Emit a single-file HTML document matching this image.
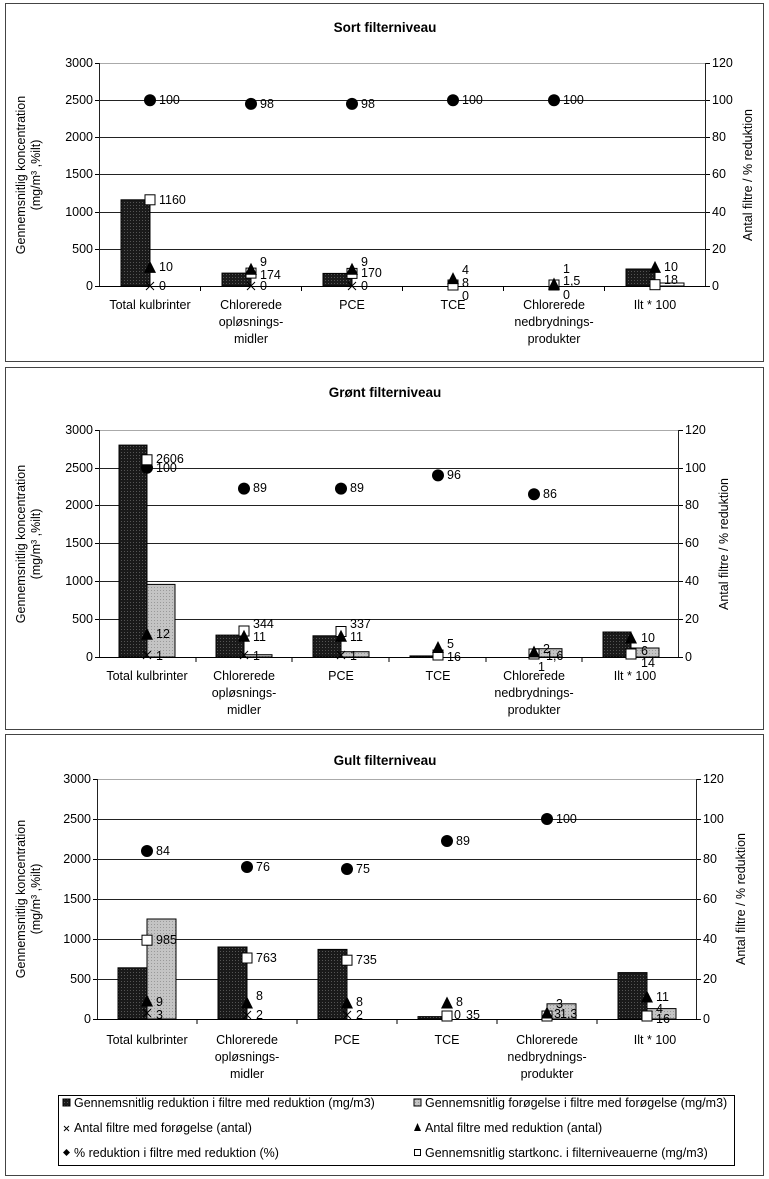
<!DOCTYPE html>
<html><head><meta charset="utf-8"><style>
html,body{margin:0;padding:0;background:#fff}
svg{display:block;font-family:"Liberation Sans",Arial,sans-serif}
</style></head><body>
<svg width="769" height="1179" viewBox="0 0 769 1179" xmlns="http://www.w3.org/2000/svg">
<defs>
<pattern id="pb" width="3" height="3" patternUnits="userSpaceOnUse"><rect width="3" height="3" fill="#1a1a1a"/><rect x="1" y="1" width="1" height="1" fill="#555"/></pattern>
<pattern id="pg" width="3" height="3" patternUnits="userSpaceOnUse"><rect width="3" height="3" fill="#c4c4c4"/><rect x="1" y="1" width="1" height="1" fill="#999"/></pattern>
<symbol id="ci" overflow="visible"><circle cx="0" cy="0" r="6" fill="#000"/></symbol>
<symbol id="sq" overflow="visible"><rect x="-5" y="-5" width="10" height="10" fill="#fff" stroke="#000" stroke-width="1"/></symbol>
<symbol id="tr" overflow="visible"><polygon points="0,-6.5 6,5.5 -6,5.5" fill="#000"/></symbol>
<symbol id="xx" overflow="visible"><path d="M-4,-4L4,4M-4,4L4,-4" stroke="#000" stroke-width="1"/></symbol>
</defs>
<rect width="769" height="1179" fill="#fff"/>
<rect x="5.5" y="3.5" width="758" height="358" fill="none" stroke="#444"/>
<rect x="5.5" y="367.5" width="758" height="362" fill="none" stroke="#444"/>
<rect x="5.5" y="734.5" width="758" height="441" fill="none" stroke="#444"/>

<!-- ================= CHART 1 ================= -->
<text x="385" y="32" font-size="13.5" font-weight="bold" text-anchor="middle">Sort filterniveau</text>
<g transform="translate(0,63)" font-size="12.5">
<g stroke="#222" stroke-width="1">
<line x1="99" y1="0.5" x2="706" y2="0.5" stroke="#aaa"/>
<line x1="99" y1="37.5" x2="706" y2="37.5"/><line x1="99" y1="74.5" x2="706" y2="74.5"/>
<line x1="99" y1="111.5" x2="706" y2="111.5"/><line x1="99" y1="149.5" x2="706" y2="149.5"/>
<line x1="99" y1="186.5" x2="706" y2="186.5"/>
<line x1="99.5" y1="0" x2="99.5" y2="223"/><line x1="705.5" y1="0" x2="705.5" y2="223"/>
</g>
<g stroke="#000"><line x1="95" y1="0.5" x2="99" y2="0.5"/><line x1="95" y1="37.5" x2="99" y2="37.5"/><line x1="95" y1="74.5" x2="99" y2="74.5"/><line x1="95" y1="111.5" x2="99" y2="111.5"/><line x1="95" y1="149.5" x2="99" y2="149.5"/><line x1="95" y1="186.5" x2="99" y2="186.5"/><line x1="95" y1="223.5" x2="99" y2="223.5"/>
<line x1="706" y1="0.5" x2="710" y2="0.5"/><line x1="706" y1="37.5" x2="710" y2="37.5"/><line x1="706" y1="74.5" x2="710" y2="74.5"/><line x1="706" y1="111.5" x2="710" y2="111.5"/><line x1="706" y1="149.5" x2="710" y2="149.5"/><line x1="706" y1="186.5" x2="710" y2="186.5"/><line x1="706" y1="223.5" x2="710" y2="223.5"/></g>
<g text-anchor="end"><text x="93" y="4">3000</text><text x="93" y="41">2500</text><text x="93" y="78">2000</text><text x="93" y="115">1500</text><text x="93" y="153">1000</text><text x="93" y="190">500</text><text x="93" y="227">0</text></g>
<g><text x="712" y="4">120</text><text x="712" y="41">100</text><text x="712" y="78">80</text><text x="712" y="115">60</text><text x="712" y="153">40</text><text x="712" y="190">20</text><text x="712" y="227">0</text></g>
<text transform="translate(25,112) rotate(-90)" text-anchor="middle">Gennemsnitlig koncentration</text>
<text transform="translate(40,112) rotate(-90)" text-anchor="middle">(mg/m³ ,%ilt)</text>
<text transform="translate(752,112) rotate(-90)" text-anchor="middle">Antal filtre / % reduktion</text>
<rect x="121" y="136.8" width="29" height="86.2" fill="url(#pb)" stroke="#000"/>
<rect x="222" y="210.1" width="29" height="12.9" fill="url(#pb)" stroke="#000"/>
<rect x="323" y="210.4" width="29" height="12.6" fill="url(#pb)" stroke="#000"/>
<rect x="626" y="206" width="29" height="17" fill="url(#pb)" stroke="#000"/>
<rect x="655" y="220" width="29" height="3" fill="#fff" stroke="#000"/>
<line x1="99" y1="223.5" x2="706" y2="223.5" stroke="#000"/>
<g stroke="#000"><line x1="200.5" y1="223" x2="200.5" y2="228"/><line x1="301.5" y1="223" x2="301.5" y2="228"/><line x1="402.5" y1="223" x2="402.5" y2="228"/><line x1="503.5" y1="223" x2="503.5" y2="228"/><line x1="604.5" y1="223" x2="604.5" y2="228"/></g>
<use href="#ci" x="150" y="37.2"/><use href="#ci" x="251" y="40.9"/><use href="#ci" x="352" y="40.9"/><use href="#ci" x="453" y="37.2"/><use href="#ci" x="554" y="37.2"/>
<use href="#sq" x="150" y="136.8"/><use href="#sq" x="251" y="210.1"/><use href="#sq" x="352" y="210.4"/><use href="#sq" x="453" y="222"/><use href="#sq" x="554" y="222"/><use href="#sq" x="655" y="221.7"/>
<use href="#tr" x="150" y="204.4"/><use href="#tr" x="251" y="206.3"/><use href="#tr" x="352" y="206.3"/><use href="#tr" x="453" y="215.6"/><use href="#tr" x="554" y="221"/><use href="#tr" x="655" y="204.4"/>
<use href="#xx" x="150" y="223"/><use href="#xx" x="251" y="223"/><use href="#xx" x="352" y="223"/>
<g><text x="159" y="41">100</text><text x="260" y="45">98</text><text x="361" y="45">98</text><text x="462" y="41">100</text><text x="563" y="41">100</text>
<text x="159" y="141">1160</text><text x="159" y="208">10</text><text x="159" y="227">0</text>
<text x="260" y="203">9</text><text x="260" y="216">174</text><text x="260" y="227">0</text>
<text x="361" y="203">9</text><text x="361" y="214">170</text><text x="361" y="227">0</text>
<text x="462" y="211">4</text><text x="462" y="224">8</text><text x="462" y="237">0</text>
<text x="563" y="210">1</text><text x="563" y="222">1,5</text><text x="563" y="236">0</text>
<text x="664" y="208">10</text><text x="664" y="221">18</text></g>
<g text-anchor="middle"><text x="150" y="246">Total kulbrinter</text>
<text x="251" y="246">Chlorerede</text><text x="251" y="263">opløsnings-</text><text x="251" y="280">midler</text>
<text x="352" y="246">PCE</text><text x="453" y="246">TCE</text>
<text x="554" y="246">Chlorerede</text><text x="554" y="263">nedbrydnings-</text><text x="554" y="280">produkter</text>
<text x="655" y="246">Ilt * 100</text></g>
</g>

<!-- ================= CHART 2 ================= -->
<text x="385" y="397" font-size="13.5" font-weight="bold" text-anchor="middle">Grønt filterniveau</text>
<g transform="translate(0,430)" font-size="12.5">
<g stroke="#222">
<line x1="99" y1="0.5" x2="679" y2="0.5" stroke="#aaa"/>
<line x1="99" y1="38.5" x2="679" y2="38.5"/><line x1="99" y1="75.5" x2="679" y2="75.5"/>
<line x1="99" y1="113.5" x2="679" y2="113.5"/><line x1="99" y1="151.5" x2="679" y2="151.5"/>
<line x1="99" y1="189.5" x2="679" y2="189.5"/>
<line x1="99.5" y1="0" x2="99.5" y2="227"/><line x1="678.5" y1="0" x2="678.5" y2="227"/>
</g>
<g stroke="#000"><line x1="95" y1="0.5" x2="99" y2="0.5"/><line x1="95" y1="38.5" x2="99" y2="38.5"/><line x1="95" y1="75.5" x2="99" y2="75.5"/><line x1="95" y1="113.5" x2="99" y2="113.5"/><line x1="95" y1="151.5" x2="99" y2="151.5"/><line x1="95" y1="189.5" x2="99" y2="189.5"/><line x1="95" y1="227.5" x2="99" y2="227.5"/>
<line x1="679" y1="0.5" x2="683" y2="0.5"/><line x1="679" y1="38.5" x2="683" y2="38.5"/><line x1="679" y1="75.5" x2="683" y2="75.5"/><line x1="679" y1="113.5" x2="683" y2="113.5"/><line x1="679" y1="151.5" x2="683" y2="151.5"/><line x1="679" y1="189.5" x2="683" y2="189.5"/><line x1="679" y1="227.5" x2="683" y2="227.5"/></g>
<g text-anchor="end"><text x="93" y="4">3000</text><text x="93" y="42">2500</text><text x="93" y="79">2000</text><text x="93" y="117">1500</text><text x="93" y="155">1000</text><text x="93" y="193">500</text><text x="93" y="231">0</text></g>
<g><text x="685" y="4">120</text><text x="685" y="42">100</text><text x="685" y="79">80</text><text x="685" y="117">60</text><text x="685" y="155">40</text><text x="685" y="193">20</text><text x="685" y="231">0</text></g>
<text transform="translate(25,114) rotate(-90)" text-anchor="middle">Gennemsnitlig koncentration</text>
<text transform="translate(40,114) rotate(-90)" text-anchor="middle">(mg/m³ ,%ilt)</text>
<text transform="translate(728,114) rotate(-90)" text-anchor="middle">Antal filtre / % reduktion</text>
<rect x="119" y="15.1" width="28" height="211.9" fill="url(#pb)" stroke="#000"/>
<rect x="147" y="154.4" width="28" height="72.6" fill="url(#pg)" stroke="#000"/>
<rect x="216" y="205.1" width="28" height="21.9" fill="url(#pb)" stroke="#000"/>
<rect x="244" y="224.7" width="28" height="2.3" fill="url(#pg)" stroke="#000"/>
<rect x="313" y="205.8" width="28" height="21.2" fill="url(#pb)" stroke="#000"/>
<rect x="341" y="221.7" width="28" height="5.3" fill="url(#pg)" stroke="#000"/>
<rect x="410" y="225.9" width="28" height="1.1" fill="url(#pb)" stroke="#000"/>
<rect x="534" y="218.7" width="28" height="8.3" fill="url(#pg)" stroke="#000"/>
<rect x="603" y="202" width="28" height="25" fill="url(#pb)" stroke="#000"/>
<rect x="631" y="218" width="28" height="9" fill="url(#pg)" stroke="#000"/>
<line x1="99" y1="227.5" x2="679" y2="227.5" stroke="#000"/>
<g stroke="#000"><line x1="196" y1="227" x2="196" y2="232"/><line x1="292" y1="227" x2="292" y2="232"/><line x1="389" y1="227" x2="389" y2="232"/><line x1="486" y1="227" x2="486" y2="232"/><line x1="582" y1="227" x2="582" y2="232"/></g>
<use href="#ci" x="147" y="37.8"/><use href="#ci" x="244" y="58.6"/><use href="#ci" x="341" y="58.6"/><use href="#ci" x="438" y="45.4"/><use href="#ci" x="534" y="64.3"/>
<use href="#sq" x="147" y="29.8"/><use href="#sq" x="244" y="201"/><use href="#sq" x="341" y="201.5"/><use href="#sq" x="438" y="225"/><use href="#sq" x="534" y="224"/><use href="#sq" x="631" y="224"/>
<use href="#tr" x="147" y="204.3"/><use href="#tr" x="244" y="206.2"/><use href="#tr" x="341" y="206.2"/><use href="#tr" x="438" y="217.5"/><use href="#tr" x="534" y="222"/><use href="#tr" x="631" y="208"/>
<use href="#xx" x="147" y="225"/><use href="#xx" x="244" y="225"/><use href="#xx" x="341" y="225"/>
<g><text x="156" y="33">2606</text><text x="156" y="42">100</text><text x="156" y="208">12</text><text x="156" y="230">1</text>
<text x="253" y="62">89</text><text x="253" y="198">344</text><text x="253" y="211">11</text><text x="253" y="230">1</text>
<text x="350" y="62">89</text><text x="350" y="198">337</text><text x="350" y="211">11</text><text x="350" y="230">1</text>
<text x="447" y="49">96</text><text x="447" y="218">5</text><text x="447" y="231">16</text>
<text x="543" y="68">86</text><text x="543" y="223">2</text><text x="546" y="230">1,6</text><text x="538" y="241">1</text>
<text x="641" y="212">10</text><text x="641" y="225">6</text><text x="641" y="237">14</text></g>
<g text-anchor="middle"><text x="147" y="250">Total kulbrinter</text>
<text x="244" y="250">Chlorerede</text><text x="244" y="267">opløsnings-</text><text x="244" y="284">midler</text>
<text x="341" y="250">PCE</text><text x="438" y="250">TCE</text>
<text x="534" y="250">Chlorerede</text><text x="534" y="267">nedbrydnings-</text><text x="534" y="284">produkter</text>
<text x="635" y="250">Ilt * 100</text></g>
</g>

<!-- ================= CHART 3 ================= -->
<text x="385" y="765" font-size="13.5" font-weight="bold" text-anchor="middle">Gult filterniveau</text>
<g transform="translate(0,779)" font-size="12.5">
<g stroke="#222">
<line x1="97" y1="0.5" x2="697" y2="0.5" stroke="#aaa"/>
<line x1="97" y1="40.5" x2="697" y2="40.5"/><line x1="97" y1="80.5" x2="697" y2="80.5"/>
<line x1="97" y1="120.5" x2="697" y2="120.5"/><line x1="97" y1="160.5" x2="697" y2="160.5"/>
<line x1="97" y1="200.5" x2="697" y2="200.5"/>
<line x1="97.5" y1="0" x2="97.5" y2="240"/><line x1="696.5" y1="0" x2="696.5" y2="240"/>
</g>
<g stroke="#000"><line x1="93" y1="0.5" x2="97" y2="0.5"/><line x1="93" y1="40.5" x2="97" y2="40.5"/><line x1="93" y1="80.5" x2="97" y2="80.5"/><line x1="93" y1="120.5" x2="97" y2="120.5"/><line x1="93" y1="160.5" x2="97" y2="160.5"/><line x1="93" y1="200.5" x2="97" y2="200.5"/><line x1="93" y1="240.5" x2="97" y2="240.5"/>
<line x1="697" y1="0.5" x2="701" y2="0.5"/><line x1="697" y1="40.5" x2="701" y2="40.5"/><line x1="697" y1="80.5" x2="701" y2="80.5"/><line x1="697" y1="120.5" x2="701" y2="120.5"/><line x1="697" y1="160.5" x2="701" y2="160.5"/><line x1="697" y1="200.5" x2="701" y2="200.5"/><line x1="697" y1="240.5" x2="701" y2="240.5"/></g>
<g text-anchor="end"><text x="91" y="4">3000</text><text x="91" y="44">2500</text><text x="91" y="84">2000</text><text x="91" y="124">1500</text><text x="91" y="164">1000</text><text x="91" y="204">500</text><text x="91" y="244">0</text></g>
<g><text x="703" y="4">120</text><text x="703" y="44">100</text><text x="703" y="84">80</text><text x="703" y="124">60</text><text x="703" y="164">40</text><text x="703" y="204">20</text><text x="703" y="244">0</text></g>
<text transform="translate(25,120) rotate(-90)" text-anchor="middle">Gennemsnitlig koncentration</text>
<text transform="translate(40,120) rotate(-90)" text-anchor="middle">(mg/m³ ,%ilt)</text>
<text transform="translate(745,120) rotate(-90)" text-anchor="middle">Antal filtre / % reduktion</text>
<rect x="118" y="188.8" width="29" height="51.2" fill="url(#pb)" stroke="#000"/>
<rect x="147" y="140" width="29" height="100" fill="url(#pg)" stroke="#000"/>
<rect x="218" y="168" width="29" height="72" fill="url(#pb)" stroke="#000"/>
<rect x="318" y="170.4" width="29" height="69.6" fill="url(#pb)" stroke="#000"/>
<rect x="418" y="237.6" width="29" height="2.4" fill="url(#pb)" stroke="#000"/>
<rect x="547" y="224.8" width="29" height="15.2" fill="url(#pg)" stroke="#000"/>
<rect x="618" y="193.6" width="29" height="46.4" fill="url(#pb)" stroke="#000"/>
<rect x="647" y="229.6" width="29" height="10.4" fill="url(#pg)" stroke="#000"/>
<line x1="97" y1="240.5" x2="697" y2="240.5" stroke="#000"/>
<g stroke="#000"><line x1="197" y1="240" x2="197" y2="245"/><line x1="297" y1="240" x2="297" y2="245"/><line x1="397" y1="240" x2="397" y2="245"/><line x1="497" y1="240" x2="497" y2="245"/><line x1="597" y1="240" x2="597" y2="245"/></g>
<use href="#ci" x="147" y="72"/><use href="#ci" x="247" y="88"/><use href="#ci" x="347" y="90"/><use href="#ci" x="447" y="62"/><use href="#ci" x="547" y="40"/>
<use href="#sq" x="147" y="161.2"/><use href="#sq" x="247" y="179"/><use href="#sq" x="347" y="181.2"/><use href="#sq" x="447" y="237"/><use href="#sq" x="547" y="237"/><use href="#sq" x="647" y="237"/>
<use href="#tr" x="147" y="222"/><use href="#tr" x="247" y="224"/><use href="#tr" x="347" y="224"/><use href="#tr" x="447" y="224"/><use href="#tr" x="547" y="234"/><use href="#tr" x="647" y="218"/>
<use href="#xx" x="147" y="234"/><use href="#xx" x="247" y="236"/><use href="#xx" x="347" y="236"/>
<g><text x="156" y="76">84</text><text x="156" y="165">985</text><text x="156" y="227">9</text><text x="156" y="240">3</text>
<text x="256" y="92">76</text><text x="256" y="183">763</text><text x="256" y="221">8</text><text x="256" y="240">2</text>
<text x="356" y="94">75</text><text x="356" y="185">735</text><text x="356" y="227">8</text><text x="356" y="240">2</text>
<text x="456" y="66">89</text><text x="456" y="227">8</text><text x="454" y="240">0</text><text x="466" y="240">35</text>
<text x="556" y="44">100</text><text x="556" y="229">3</text><text x="554" y="239">3</text><text x="560" y="239">1,3</text>
<text x="656" y="222">11</text><text x="656" y="234">4</text><text x="656" y="244">16</text></g>
<g text-anchor="middle"><text x="147" y="265">Total kulbrinter</text>
<text x="247" y="265">Chlorerede</text><text x="247" y="282">opløsnings-</text><text x="247" y="299">midler</text>
<text x="347" y="265">PCE</text><text x="447" y="265">TCE</text>
<text x="547" y="265">Chlorerede</text><text x="547" y="282">nedbrydnings-</text><text x="547" y="299">produkter</text>
<text x="655" y="265">Ilt * 100</text></g>
</g>

<!-- legend -->
<rect x="58.5" y="1095.5" width="676" height="70" fill="#fff" stroke="#000"/>
<g font-size="12.5">
<rect x="63" y="1099" width="7" height="7" fill="url(#pb)" stroke="#000"/>
<text x="74" y="1107">Gennemsnitlig reduktion i filtre med reduktion (mg/m3)</text>
<rect x="414" y="1099" width="7" height="7" fill="url(#pg)" stroke="#000"/>
<text x="425" y="1107">Gennemsnitlig forøgelse i filtre med forøgelse (mg/m3)</text>
<path d="M64,1126L69,1131M64,1131L69,1126" stroke="#000"/>
<text x="74" y="1132">Antal filtre med forøgelse (antal)</text>
<polygon points="417.5,1123 421,1131 414,1131" fill="#000"/>
<text x="425" y="1132">Antal filtre med reduktion (antal)</text>
<polygon points="66.5,1149 70,1152.5 66.5,1156 63,1152.5" fill="#000"/>
<text x="74" y="1157">% reduktion i filtre med reduktion (%)</text>
<rect x="414.5" y="1149.5" width="6" height="6" fill="#fff" stroke="#000"/>
<text x="425" y="1157">Gennemsnitlig startkonc. i filterniveauerne (mg/m3)</text>
</g>
</svg>
</body></html>
